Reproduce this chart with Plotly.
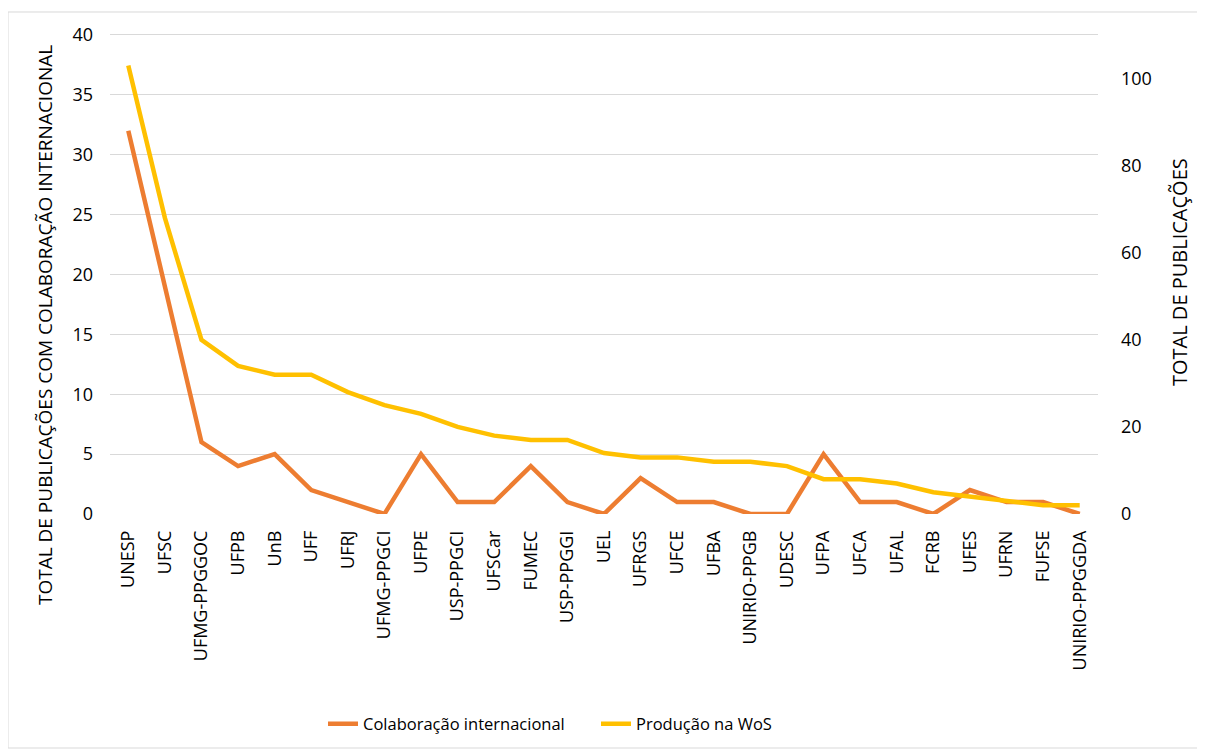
import plotly.graph_objects as go

categories = ["UNESP", "UFSC", "UFMG-PPGGOC", "UFPB", "UnB", "UFF", "UFRJ", "UFMG-PPGCI",
              "UFPE", "USP-PPGCI", "UFSCar", "FUMEC", "USP-PPGGI", "UEL", "UFRGS", "UFCE",
              "UFBA", "UNIRIO-PPGB", "UDESC", "UFPA", "UFCA", "UFAL", "FCRB", "UFES",
              "UFRN", "FUFSE", "UNIRIO-PPGGDA"]
colaboracao = [32, 19, 6, 4, 5, 2, 1, 0, 5, 1, 1, 4, 1, 0, 3, 1, 1, 0, 0, 5, 1, 1, 0, 2, 1, 1, 0]
producao = [103, 68, 40, 34, 32, 32, 28, 25, 23, 20, 18, 17, 17, 14, 13, 13, 12, 12, 11, 8, 8, 7, 5, 4, 3, 2, 2]

left_ticks = [0, 5, 10, 15, 20, 25, 30, 35, 40]
right_ticks = [0, 20, 40, 60, 80, 100]

FONT = "Open Sans"
O = 8  # page body margin

fig = go.Figure()
fig.add_trace(go.Scatter(x=categories, y=colaboracao, mode="lines", name="Colaboração internacional",
                         line=dict(color="#ED7D31", width=4.5), yaxis="y"))
fig.add_trace(go.Scatter(x=categories, y=producao, mode="lines", name="Produção na WoS",
                         line=dict(color="#FFC000", width=4.5), yaxis="y2"))

# reference geometry: value 40 at y=35, value 0 at y=514
unit = (514 - 35) / 40.0
top = 40.25
W, H = 1205 - O, 751 - O
L = 110 - O
T = (35 - O) - (top - 40) * unit
R = W - (1098 - O)
B = H - (514 - O)
pw, ph = W - L - R, H - T - B


def px(x):
    return (x - O - L) / pw


def py(y):
    return (T + ph - (y - O)) / ph


fig.update_layout(
    width=W, height=H,
    margin=dict(l=L, r=R, t=T, b=B, pad=0, autoexpand=False),
    paper_bgcolor="white", plot_bgcolor="white",
    font=dict(family=FONT, size=16, color="#000000"),
    showlegend=True,
    legend=dict(orientation="h", x=px(323), xanchor="left", y=py(724), yanchor="middle",
                font=dict(family=FONT, size=16.5, color="#000000"),
                entrywidth=228, entrywidthmode="pixels",
                traceorder="normal"),
    xaxis=dict(type="category", range=[-0.5, len(categories) - 0.5], tickangle=-90, showgrid=False,
               showline=False, zeroline=False, automargin=False,
               ticks="", tickfont=dict(family=FONT, size=18, color="#000000"),
               ticklabelstandoff=12),
    yaxis=dict(range=[0, top], tickvals=left_ticks, showgrid=True, gridcolor="#D9D9D9", gridwidth=1.3,
               zeroline=False, showline=False, ticks="", automargin=False,
               tickfont=dict(family=FONT, size=18, color="#000000"), ticklabelstandoff=16),
    yaxis2=dict(range=[0, 110 * top / 40], tickvals=right_ticks, overlaying="y", side="right", showgrid=False,
                zeroline=False, showline=False, ticks="", automargin=False,
                tickfont=dict(family=FONT, size=18, color="#000000"), ticklabelstandoff=22),
)

fig.add_annotation(text="TOTAL DE PUBLICAÇÕES COM COLABORAÇÃO INTERNACIONAL",
                   xref="paper", yref="paper", x=px(45), y=py(325),
                   textangle=-90, showarrow=False, xanchor="center", yanchor="middle",
                   font=dict(family=FONT, size=19, color="#000000"))
fig.add_annotation(text="TOTAL DE PUBLICAÇÕES",
                   xref="paper", yref="paper", x=px(1180), y=py(272),
                   textangle=-90, showarrow=False, xanchor="center", yanchor="middle",
                   font=dict(family=FONT, size=20, color="#000000"))

fig.add_shape(type="rect", xref="paper", yref="paper",
              x0=px(8), x1=px(1203), y0=py(748), y1=py(12),
              line=dict(color="#D9D9D9", width=1), layer="below")

fig.write_html("out.html")
